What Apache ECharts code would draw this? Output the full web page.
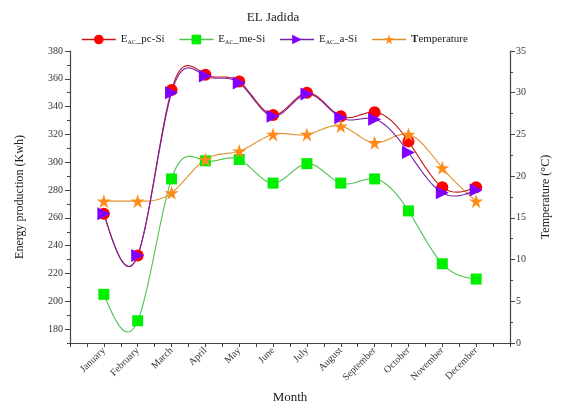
<!DOCTYPE html>
<html>
<head>
<meta charset="utf-8">
<script src="https://cdn.jsdelivr.net/npm/echarts@6/dist/echarts.min.js"></script>
<style>
  html, body { margin: 0; padding: 0; background: #fff; }
  #chart { width: 563px; height: 405px; }
</style>
</head>
<body>
<div id="chart"></div>
<script>
// Monthly AC energy output of three PV technologies and mean temperature, El Jadida
const months = ['January', 'February', 'March', 'April', 'May', 'June', 'July',
  'August', 'September', 'October', 'November', 'December'];
const pcSi = [263, 233, 352, 363, 358, 334, 350, 333, 336, 315, 282, 282];
const meSi = [205, 186, 288, 301, 302, 285, 299, 285, 288, 265, 227, 216];
const aSi = [263, 233, 350, 362, 357, 333, 349, 332, 331, 307, 278, 280];
const temperature = [17, 17, 18, 22, 23, 25, 25, 26, 24, 25, 21, 17];

const energyTicks = [180, 200, 220, 240, 260, 280, 300, 320, 340, 360, 380];
const monthPositions = months.map((m, i) => i + 1);

const FONT = 'Liberation Serif';
const AXIS = '#444';
const STAR = 'path://M50,0 L61.8,35.1 L98.1,35.1 L68.7,56.8 L79.4,91.9 L50,70.2 L20.6,91.9 L31.3,56.8 L1.9,35.1 L38.2,35.1 Z';

const toPoints = arr => arr.map((v, i) => [monthPositions[i], v]);

// Natural cubic spline through pixel points, sampled densely for drawing
function naturalSpline(pts, steps) {
  const n = pts.length;
  const x = pts.map(p => p[0]), y = pts.map(p => p[1]);
  const h = [];
  for (let i = 0; i < n - 1; i++) h.push(x[i + 1] - x[i]);
  const M = new Array(n).fill(0);
  const a = [], b = [], c = [], d = [];
  for (let i = 1; i < n - 1; i++) {
    a.push(h[i - 1]);
    b.push(2 * (h[i - 1] + h[i]));
    c.push(h[i]);
    d.push(6 * ((y[i + 1] - y[i]) / h[i] - (y[i] - y[i - 1]) / h[i - 1]));
  }
  const m = b.length;
  for (let i = 1; i < m; i++) {
    const w = a[i] / b[i - 1];
    b[i] -= w * c[i - 1];
    d[i] -= w * d[i - 1];
  }
  const sol = new Array(m);
  for (let i = m - 1; i >= 0; i--) {
    sol[i] = (d[i] - (i < m - 1 ? c[i] * sol[i + 1] : 0)) / b[i];
  }
  for (let i = 0; i < m; i++) M[i + 1] = sol[i];
  const out = [];
  for (let i = 0; i < n - 1; i++) {
    const hi = h[i];
    for (let s = 0; s < steps; s++) {
      const xx = x[i] + hi * s / steps;
      const A = x[i + 1] - xx, B = xx - x[i];
      const yy = M[i] * A * A * A / (6 * hi) + M[i + 1] * B * B * B / (6 * hi)
        + (y[i] / hi - M[i] * hi / 6) * A + (y[i + 1] / hi - M[i + 1] * hi / 6) * B;
      out.push([xx, yy]);
    }
  }
  out.push([x[n - 1], y[n - 1]]);
  return out;
}

function curveSeries(values, axisIndex, color, z) {
  return {
    type: 'custom', yAxisIndex: axisIndex, silent: true, z: z,
    data: [[monthPositions[0], values[0]]],
    renderItem: (params, api) => {
      const pix = toPoints(values).map(p => api.coord(p));
      return {
        type: 'polyline',
        shape: { points: naturalSpline(pix, 24) },
        style: { stroke: color, lineWidth: 1.1, fill: null }
      };
    }
  };
}

const legendLabels = {
  'pc': '{n|E}{s|AC}{n|_pc-Si}',
  'me': '{n|E}{s|AC}{n|_me-Si}',
  'a': '{n|E}{s|AC}{n|_a-Si}',
  'T': '{b|T}{n|emperature}'
};

const colors = {
  pc: { mark: '#ff0000', line: '#c01818' },
  me: { mark: '#00ee00', line: '#4cc24c' },
  a: { mark: '#8000ff', line: '#7a1fa8' },
  T: { mark: '#ff8c1a', line: '#e0902a' }
};

const chart = echarts.init(document.getElementById('chart'), null, { renderer: 'canvas' });

chart.setOption({
  animation: false,
  backgroundColor: '#fff',
  textStyle: { fontFamily: FONT },
  title: {
    text: 'EL Jadida',
    left: 268, textAlign: 'center', top: 6,
    textStyle: { fontFamily: FONT, fontSize: 13, fontWeight: 'normal', color: '#222' }
  },
  legend: {
    top: 29, left: 76,
    itemWidth: 34, itemHeight: 12, itemGap: 14,
    formatter: name => legendLabels[name],
    textStyle: {
      fontFamily: FONT, color: '#222',
      rich: {
        n: { fontFamily: FONT, fontSize: 11, color: '#222' },
        b: { fontFamily: FONT, fontSize: 11, fontWeight: 'bold', color: '#222' },
        s: { fontFamily: FONT, fontSize: 6, color: '#222', padding: [6, 0, 0, 0] }
      }
    },
    data: ['pc', 'me', 'a', 'T'].map(k => ({
      name: k,
      lineStyle: { color: colors[k].line, width: 1.6, opacity: 1 }
    }))
  },
  grid: { left: 70, right: 53, top: 51, bottom: 62, outerBoundsMode: 'none', containLabel: false },
  xAxis: {
    type: 'value', min: 0, max: 13, interval: 0.5,
    name: 'Month', nameLocation: 'middle', nameGap: 48,
    nameTextStyle: { fontFamily: FONT, fontSize: 13, color: '#222' },
    axisLine: { lineStyle: { color: AXIS, width: 1.2 } },
    axisTick: { show: true, length: 4, lineStyle: { color: AXIS } },
    splitLine: { show: false },
    axisLabel: {
      customValues: monthPositions,
      formatter: v => months[Math.round(v) - 1] || '',
      rotate: 45, fontSize: 10, color: '#333', fontFamily: FONT, margin: 6
    }
  },
  yAxis: [
    {
      type: 'value', min: 170, max: 380, interval: 10, position: 'left',
      name: 'Energy production (Kwh)', nameLocation: 'middle', nameGap: 44,
      nameTextStyle: { fontFamily: FONT, fontSize: 12, color: '#222' },
      axisLine: { show: true, lineStyle: { color: AXIS, width: 1.2 } },
      axisTick: { show: true, length: 5, customValues: energyTicks, lineStyle: { color: AXIS } },
      axisLabel: { customValues: energyTicks, fontSize: 10, color: '#333', fontFamily: FONT, margin: 7 },
      splitLine: { show: false }
    },
    {
      type: 'value', min: 0, max: 35, interval: 5, position: 'right',
      name: 'Temperature (°C)', nameLocation: 'middle', nameGap: 30, nameRotate: 90,
      nameTextStyle: { fontFamily: FONT, fontSize: 12, color: '#222' },
      axisLine: { show: true, lineStyle: { color: AXIS, width: 1.2 } },
      axisTick: { show: true, length: 5, lineStyle: { color: AXIS } },
      minorTick: { show: true, splitNumber: 2, length: 3, lineStyle: { color: AXIS } },
      axisLabel: { fontSize: 10, color: '#333', fontFamily: FONT, margin: 6 },
      splitLine: { show: false }, minorSplitLine: { show: false }
    },
    {
      // minor ticks for the energy axis
      type: 'value', min: 170, max: 380, interval: 10, position: 'left',
      axisLine: { show: false },
      axisTick: { show: true, length: 3, lineStyle: { color: AXIS } },
      axisLabel: { show: false },
      splitLine: { show: false }
    }
  ],
  series: [
    curveSeries(meSi, 0, colors.me.line, 1),
    curveSeries(temperature, 1, colors.T.line, 1),
    curveSeries(pcSi, 0, colors.pc.line, 1),
    curveSeries(aSi, 0, colors.a.line, 1),
    {
      name: 'pc', type: 'line', yAxisIndex: 0,
      data: toPoints(pcSi),
      symbol: 'circle', symbolSize: 12,
      itemStyle: { color: colors.pc.mark },
      lineStyle: { opacity: 0 },
      z: 3
    },
    {
      name: 'me', type: 'line', yAxisIndex: 0,
      data: toPoints(meSi),
      symbol: 'rect', symbolSize: 11,
      itemStyle: { color: colors.me.mark },
      lineStyle: { opacity: 0 },
      z: 2
    },
    {
      name: 'a', type: 'line', yAxisIndex: 0,
      data: toPoints(aSi),
      symbol: 'triangle', symbolSize: 13, symbolRotate: -90,
      itemStyle: { color: colors.a.mark },
      lineStyle: { opacity: 0 },
      z: 4
    },
    {
      name: 'T', type: 'line', yAxisIndex: 1,
      data: toPoints(temperature),
      symbol: STAR, symbolSize: 14,
      itemStyle: { color: colors.T.mark },
      lineStyle: { opacity: 0 },
      z: 5
    }
  ]
});
</script>
</body>
</html>
